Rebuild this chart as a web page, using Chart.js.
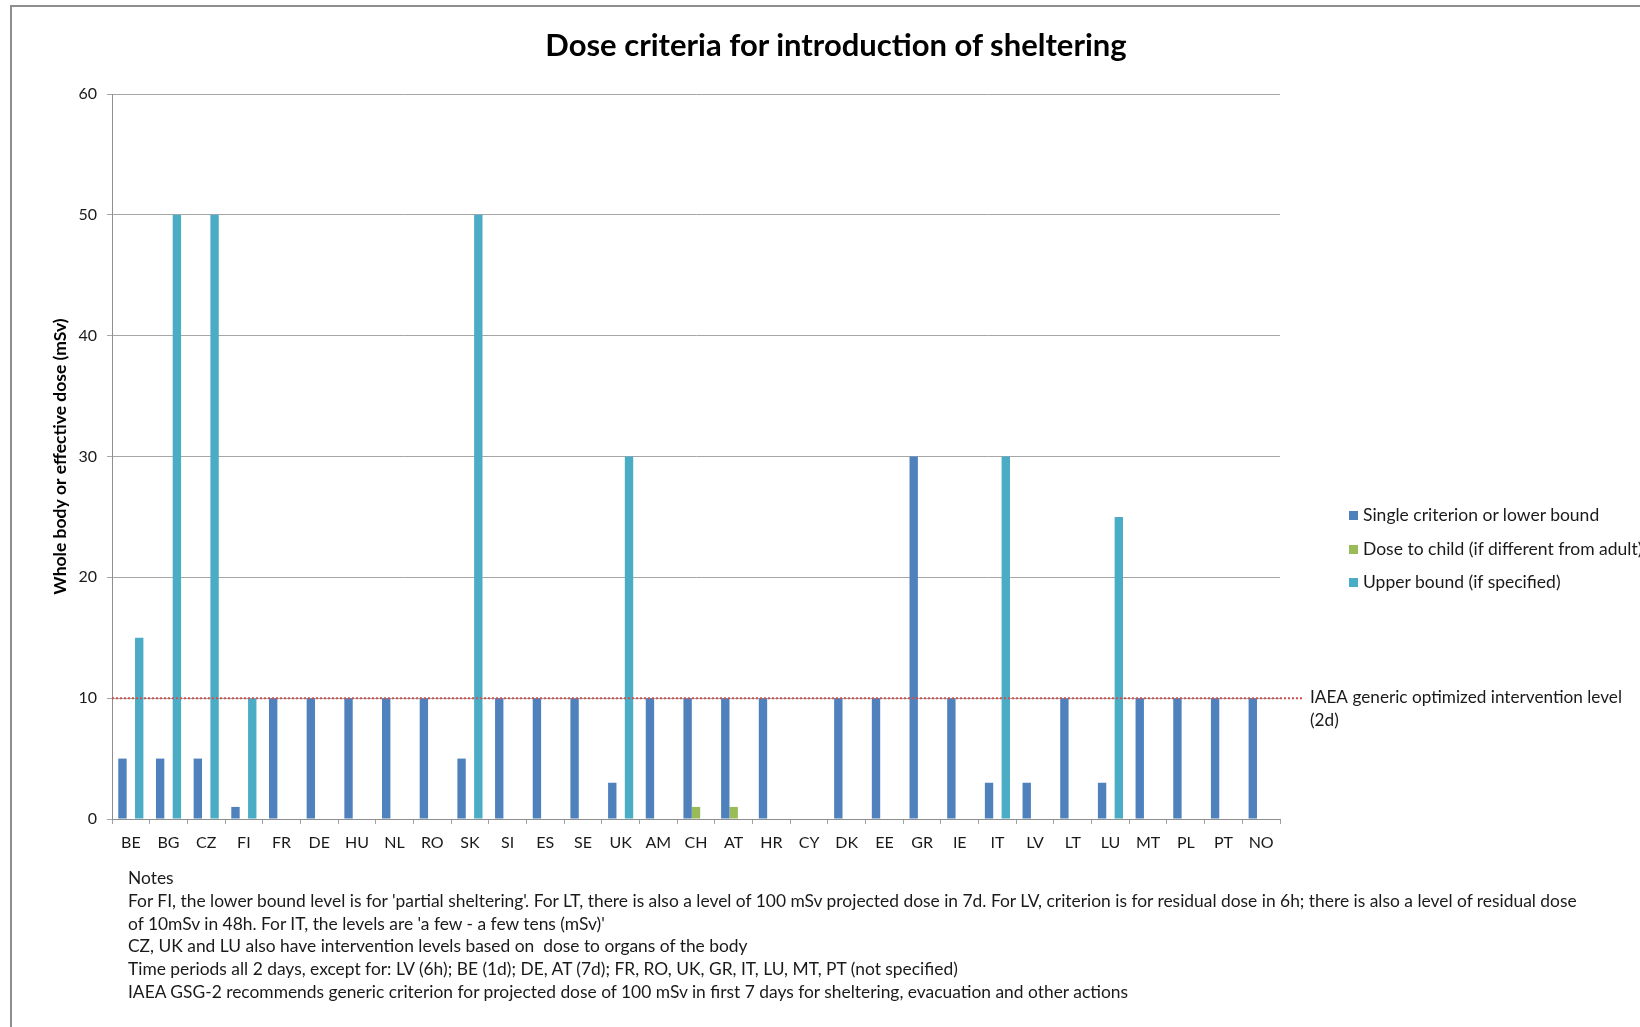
<!DOCTYPE html>
<html>
<head>
<meta charset="utf-8">
<script src="https://cdn.jsdelivr.net/npm/chart.js@4"></script>
<style>
  html, body { margin: 0; padding: 0; width: 1640px; height: 1027px; overflow: hidden; background: #fff; }
  body { position: relative; font-family: Lato, "Noto Sans", sans-serif; color: #1a1a1a; }
  #frame { position: absolute; left: 10px; top: 5px; width: 1700px; height: 1100px; border-top: 2px solid #8e8e8e; border-left: 2px solid #8e8e8e; }
  #chart { position: absolute; left: 0; top: 0; }
  #title { position: absolute; left: 0; width: 1672px; top: 23px; line-height: 42px; text-align: center; font-weight: bold; font-size: 31px; color: #000; }
  .legend-row { position: absolute; left: 1349px; height: 22px; line-height: 22px; font-size: 17.5px; white-space: nowrap; }
  .legend-row i { display: inline-block; width: 9px; height: 9px; margin-right: 5px; vertical-align: 1px; }
  #notes { position: absolute; left: 128px; top: 867px; font-size: 17.4px; line-height: 22.8px; white-space: nowrap; }
</style>
</head>
<body>
<div id="frame"></div>
<canvas id="chart" width="1640" height="1027"></canvas>
<div id="title">Dose criteria for introduction of sheltering</div>
<div id="legend"></div>
<div id="notes">
  Notes<br>
  For FI, the lower bound level is for 'partial sheltering'. For LT, there is also a level of 100 mSv projected dose in 7d. For LV, criterion is for residual dose in 6h; there is also a level of residual dose<br>
  of 10mSv in 48h. For IT, the levels are 'a few - a few tens (mSv)'<br>
  CZ, UK and LU also have intervention levels based on&nbsp; dose to organs of the body<br>
  Time periods all 2 days, except for: LV (6h); BE (1d); DE, AT (7d); FR, RO, UK, GR, IT, LU, MT, PT (not specified)<br>
  IAEA GSG-2 recommends generic criterion for projected dose of 100 mSv in first 7 days for sheltering, evacuation and other actions
</div>
<script>
const categories = ["BE", "BG", "CZ", "FI", "FR", "DE", "HU", "NL", "RO", "SK", "SI", "ES", "SE", "UK", "AM", "CH",
  "AT", "HR", "CY", "DK", "EE", "GR", "IE", "IT", "LV", "LT", "LU", "MT", "PL", "PT", "NO"];

const singleCriterion = [5, 5, 5, 1, 10, 10, 10, 10, 10, 5, 10, 10, 10, 3, 10, 10,
  10, 10, null, 10, 10, 30, 10, 3, 3, 10, 3, 10, 10, 10, 10];

const childDose = [null, null, null, null, null, null, null, null, null, null, null, null, null, null, null, 1,
  1, null, null, null, null, null, null, null, null, null, null, null, null, null, null];

const upperBound = [15, 50, 50, 10, null, null, null, null, null, 50, null, null, null, 30, null, null,
  null, null, null, null, null, null, null, 30, null, null, 25, null, null, null, null];

const seriesNames = ["Single criterion or lower bound", "Dose to child (if different from adult)", "Upper bound (if specified)"];
const seriesColors = ["#4f81bd", "#9bbb59", "#4bacc6"];

const yTicks = [0, 10, 20, 30, 40, 50, 60];
const iaeaLevel = 10;
const iaeaLabel = ["IAEA generic optimized intervention level", "(2d)"];

const $ = (id) => document.getElementById(id);

// legend drawn as html, rows spaced like the excel legend
$("legend").innerHTML = seriesNames
  .map((name, i) => `<div class="legend-row" style="top:${504 + i * 33.5}px"><i style="background:${seriesColors[i]}"></i>${name}</div>`)
  .join("");

const iaeaLine = {
  id: "iaeaLine",
  afterDatasetsDraw(chart) {
    const { ctx, chartArea, scales } = chart;
    const y = scales.y.getPixelForValue(iaeaLevel);
    ctx.save();
    ctx.strokeStyle = "#d0504d";
    ctx.lineWidth = 2;
    ctx.setLineDash([2, 2]);
    ctx.beginPath();
    ctx.moveTo(chartArea.left, y);
    ctx.lineTo(chartArea.right + 22, y);
    ctx.stroke();
    ctx.fillStyle = "#1a1a1a";
    ctx.font = "17.2px Lato";
    ctx.textBaseline = "middle";
    ctx.fillText(iaeaLabel[0], chartArea.right + 30, y - 1);
    ctx.fillText(iaeaLabel[1], chartArea.right + 30, y + 22);
    ctx.restore();
  }
};

Chart.defaults.font.family = "Lato, 'Noto Sans', sans-serif";
Chart.defaults.color = "#1a1a1a";

new Chart($("chart"), {
  type: "bar",
  data: {
    labels: categories,
    datasets: [singleCriterion, childDose, upperBound].map((values, i) => ({
      label: seriesNames[i],
      data: values,
      backgroundColor: seriesColors[i],
      categoryPercentage: 0.667,
      barPercentage: 1
    }))
  },
  options: {
    responsive: false,
    animation: false,
    devicePixelRatio: 1,
    layout: { padding: { left: 46, top: 94, right: 360, bottom: 157 } },
    plugins: {
      legend: { display: false },
      tooltip: { enabled: false }
    },
    scales: {
      x: {
        grid: { display: true, drawOnChartArea: false, drawTicks: true, tickLength: 5, color: "#a0a0a0" },
        border: { display: true, color: "#8e8e8e" },
        ticks: { font: { size: 16 }, padding: 9, maxRotation: 0, autoSkip: false, color: "#1a1a1a" },
        afterFit: (scale) => { scale.height = 51; }
      },
      y: {
        min: 0,
        max: 60,
        afterBuildTicks: (scale) => { scale.ticks = yTicks.map((v) => ({ value: v })); },
        grid: { color: "#a6a6a6", tickLength: 5 },
        border: { display: true, color: "#8e8e8e" },
        ticks: { font: { size: 16 }, padding: 10, color: "#1a1a1a" },
        title: {
          display: true,
          text: "Whole body or effective dose (mSv)",
          font: { size: 17.5, weight: "bold" },
          color: "#000",
          padding: { top: 4, bottom: 4 }
        },
        afterFit: (scale) => { scale.width = 66; }
      }
    }
  },
  plugins: [iaeaLine]
});
</script>
</body>
</html>
